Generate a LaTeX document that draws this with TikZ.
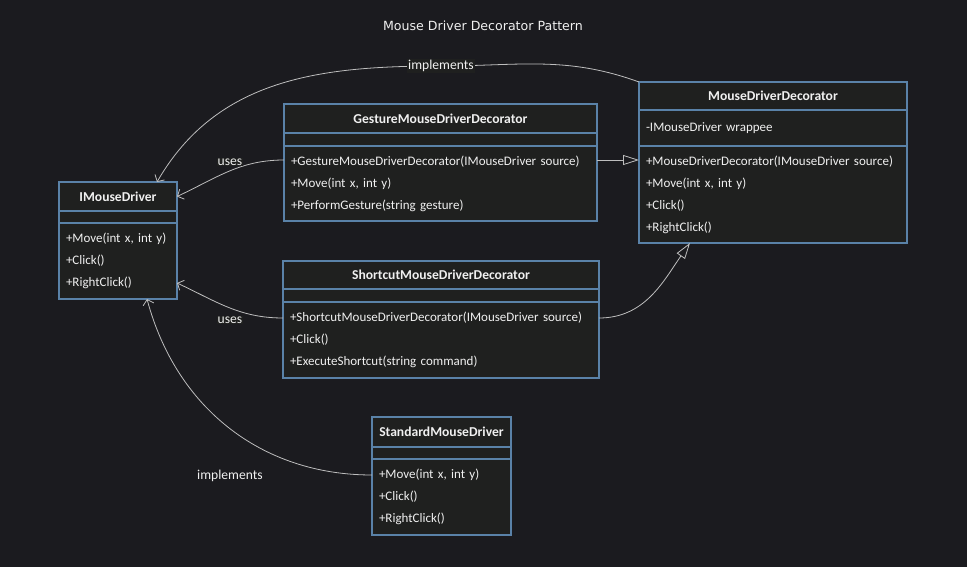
\documentclass[tikz,border=0pt]{standalone}
\usepackage{fontspec}
\setmainfont{Carlito}
\newfontfamily\titlefont{DejaVu Sans}
\usetikzlibrary{arrows.meta, positioning, calc}

\definecolor{bgdark}{HTML}{1B1B1F}
\definecolor{boxfill}{HTML}{1F201F}
\definecolor{boxline}{HTML}{5A82A8}
\definecolor{txtlight}{HTML}{F0F0F0}
\definecolor{edgegray}{HTML}{BEBEBE}

\begin{document}
\begin{tikzpicture}[x=1pt, y=1pt,
        classhead/.style={rectangle, draw=boxline, line width=1.1pt, fill=boxfill, text=txtlight, outer sep=0pt, inner sep=0pt, minimum height=29pt, anchor=north west, font=\fontsize{13.6}{15}\selectfont\bfseries},
        classattr/.style={rectangle, draw=boxline, line width=1.1pt, fill=boxfill, text=txtlight, outer sep=0pt, inner xsep=7pt, inner ysep=0pt, minimum height=13pt, align=left, font=\fontsize{13}{22}\selectfont},
        classops/.style={classattr, minimum height=76pt},
        edgelabel/.style={fill=boxfill, text=txtlight, inner sep=1pt, font=\fontsize{13.6}{15}\selectfont},
        assoc/.style={draw=edgegray, line width=0.8pt, -{Straight Barb[length=5pt, width=11pt]}},
        inherit/.style={draw=edgegray, line width=0.8pt, -{Triangle[open, length=16pt, width=10pt, fill=bgdark]}}
    ]

    \path[use as bounding box, fill=bgdark] (0,0) rectangle (967,-567);

    % Title
    \node (title) [text=txtlight, font=\titlefont\fontsize{12.6}{15}\selectfont] at (483,-26) {Mouse Driver Decorator Pattern};

    % IMouseDriver
    \node (imd) [classhead, minimum width=118pt] at (59,-182) {IMouseDriver};
    \node (imdattr) [classattr, text width=104pt, minimum height=12pt, below=0pt of imd] {};
    \node (imdops) [classops, text width=104pt, below=0pt of imdattr] {+Move(int x, int y)\\+Click()\\+RightClick()};

    % GestureMouseDriverDecorator
    \node (gmd) [classhead, minimum width=313pt] at (284,-104) {GestureMouseDriverDecorator};
    \node (gmdattr) [classattr, text width=299pt, below=0pt of gmd] {};
    \node (gmdops) [classops, text width=299pt, minimum height=75pt, below=0pt of gmdattr] {+GestureMouseDriverDecorator(IMouseDriver source)\\+Move(int x, int y)\\+PerformGesture(string gesture)};

    % MouseDriverDecorator
    \node (mdd) [classhead, minimum width=268pt, minimum height=28pt] at (639,-82) {MouseDriverDecorator};
    \node (mddattr) [classattr, text width=254pt, minimum height=36pt, below=0pt of mdd] {-IMouseDriver wrappee};
    \node (mddops) [classops, text width=254pt, minimum height=97pt, below=0pt of mddattr] {+MouseDriverDecorator(IMouseDriver source)\\+Move(int x, int y)\\+Click()\\+RightClick()};

    % ShortcutMouseDriverDecorator
    \node (smd) [classhead, minimum width=316pt, minimum height=28pt] at (283,-261) {ShortcutMouseDriverDecorator};
    \node (smdattr) [classattr, text width=302pt, below=0pt of smd] {};
    \node (smdops) [classops, text width=302pt, below=0pt of smdattr] {+ShortcutMouseDriverDecorator(IMouseDriver source)\\+Click()\\+ExecuteShortcut(string command)};

    % StandardMouseDriver
    \node (std) [classhead, minimum width=139pt, minimum height=30pt] at (372,-417) {StandardMouseDriver};
    \node (stdattr) [classattr, text width=125pt, minimum height=12pt, below=0pt of std] {};
    \node (stdops) [classops, text width=125pt, below=0pt of stdattr] {+Move(int x, int y)\\+Click()\\+RightClick()};

    % Edges
    \coordinate (implTop) at (441,-66);
    \draw[assoc] (mdd.north west) to[out=160, in=0] (implTop) to[out=180, in=60] ([xshift=-20pt]imd.north east);
    \node (implTopLbl) [edgelabel] at (implTop) {implements};

    \draw[assoc] ([yshift=-14pt]gmdops.north west) to[out=180, in=25] (imd.east);
    \node (usesGesture) [edgelabel] at (230,-162) {uses};

    \draw[inherit] ([yshift=-14pt]gmdops.north east) -- ([yshift=-14pt]mddops.north west);

    \draw[assoc] ([yshift=-16pt]smdops.north west) to[out=180, in=-25] ([yshift=16pt]imdops.south east);
    \node (usesShortcut) [edgelabel] at (230,-320) {uses};

    \draw[inherit] ([yshift=-16pt]smdops.north east) to[out=0, in=-125] ([xshift=51pt]mddops.south west);

    \draw[assoc] ([yshift=-16pt]stdops.north west) to[out=180, in=-75] ([xshift=88pt]imdops.south west);
    \node (implBottomLbl) [text=txtlight, font=\fontsize{13.6}{15}\selectfont] at (230,-476) {implements};

\end{tikzpicture}
\end{document}
